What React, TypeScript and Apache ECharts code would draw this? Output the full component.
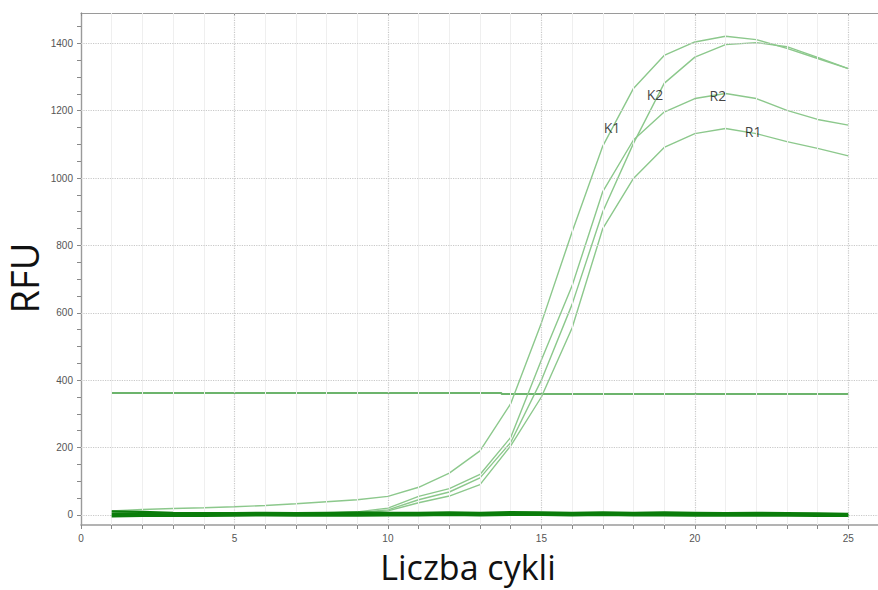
import React, { useEffect, useRef } from "react";
import * as echarts from "echarts";

const CYCLES = [1, 2, 3, 4, 5, 6, 7, 8, 9, 10, 11, 12, 13, 14, 15, 16, 17, 18, 19, 20, 21, 22, 23, 24, 25];

const K1 = [12, 16, 19, 21, 24, 28, 33, 39, 45, 55, 82, 124, 190, 330, 570, 840, 1095, 1266, 1364, 1404, 1421, 1411, 1385, 1355, 1325];
const K2 = [3, 3, 2, 3, 3, 4, 4, 5, 7, 15, 45, 68, 110, 215, 400, 625, 900, 1103, 1281, 1359, 1396, 1402, 1390, 1358, 1325];
const R2 = [4, 4, 3, 3, 4, 4, 5, 6, 9, 20, 55, 78, 120, 230, 460, 680, 960, 1113, 1196, 1236, 1251, 1236, 1201, 1174, 1157];
const R1 = [2, 2, 2, 2, 2, 3, 3, 4, 6, 12, 36, 56, 90, 205, 350, 555, 850, 999, 1091, 1132, 1147, 1132, 1108, 1088, 1066];

const BASE1 = [10, 9, 6, 5, 5, 6, 5, 6, 7, 6, 6, 7, 6, 8, 7, 6, 7, 6, 7, 6, 5, 6, 5, 4, 3];
const BASE2 = [2, 3, 1, 0, 1, 2, 1, 2, 1, 2, 3, 2, 3, 4, 3, 2, 3, 3, 2, 2, 1, 2, 1, 0, -1];
const BASE3 = [-4, -3, -2, -3, -2, -1, -2, -1, -2, -1, -1, 0, -1, 0, 0, -1, 0, -1, -1, -2, -1, -2, -2, -3, -3];

const THRESHOLD_X = [1, 13.7, 13.7, 25];
const THRESHOLD_Y = [362, 362, 359, 359];

const X_LABELS = [0, 5, 10, 15, 20, 25];
const Y_LABELS = [0, 200, 400, 600, 800, 1000, 1200, 1400];
const Y_TICKS = [0, 50, 100, 150, 200, 250, 300, 350, 400, 450, 500, 550, 600, 650, 700, 750, 800, 850, 900, 950, 1000, 1050, 1100, 1150, 1200, 1250, 1300, 1350, 1400, 1450];
const X_MINOR_GRID = [1, 2, 3, 4, 6, 7, 8, 9, 11, 12, 13, 14, 16, 17, 18, 19, 21, 22, 23, 24];

const CURVE_NAMES = ["K1", "K2", "R1", "R2"];
const CURVE_LABEL_X = [17.3, 18.7, 21.9, 20.75];
const CURVE_LABEL_Y = [1151, 1249, 1139, 1246];

export default function App() {
  const ref = useRef<HTMLDivElement>(null);

  useEffect(() => {
    const chart = echarts.init(ref.current!, null, { renderer: "svg" });
    const pair = (arr: number[]) => CYCLES.map((c, i) => [c, arr[i]]);
    const curveColor = "#8cc88c";
    const baseColor = "#0b7d0b";

    const curve = (name: string, arr: number[]) => ({
      name,
      type: "line",
      data: pair(arr),
      showSymbol: false,
      symbol: "none",
      lineStyle: { color: curveColor, width: 1.4 },
      z: 3,
      silent: true,
    });
    const base = (name: string, arr: number[]) => ({
      name,
      type: "line",
      data: pair(arr),
      showSymbol: false,
      symbol: "none",
      lineStyle: { color: baseColor, width: 2.4 },
      z: 5,
      silent: true,
    });

    const gridStyle = { color: "#c9c9c9", type: "dotted", width: 1.2 };
    const minorStyle = { color: "#efefef", type: "solid", width: 1 };

    const option: any = {
      animation: false,
      backgroundColor: "#ffffff",
      grid: { left: 81, top: 13, right: -1, bottom: 65, containLabel: false, outerBoundsMode: "none" },
      xAxis: [
        {
          type: "value",
          min: 0,
          max: 26,
          interval: 1,
          name: "Liczba cykli",
          nameLocation: "middle",
          nameGap: 25,
          nameTextStyle: {
            color: "#111",
            fontSize: 34,
            lineHeight: 34,
            fontFamily: "Open Sans",
            padding: [0, 24, 0, 0],
          },
          axisLine: { show: true, onZero: false, lineStyle: { color: "#9a9a9a", width: 1.6 } },
          axisTick: { show: true, length: 4, lineStyle: { color: "#888" } },
          axisLabel: {
            customValues: X_LABELS,
            color: "#555",
            fontSize: 10,
            fontFamily: "Liberation Sans",
            margin: 8,
          },
          splitLine: { show: false },
        },
        {
          type: "value",
          position: "top",
          min: 0,
          max: 26,
          interval: 1,
          axisLine: { show: true, onZero: false, lineStyle: { color: "#9a9a9a", width: 1.2 } },
          axisTick: { show: true, inside: true, length: 3, lineStyle: { color: "#888" } },
          axisLabel: { show: false },
          splitLine: { show: false },
        },
      ],
      yAxis: {
        type: "value",
        min: -30,
        max: 1490,
        name: "RFU",
        nameLocation: "middle",
        nameRotate: 90,
        nameGap: 38,
        nameMoveOverlap: false,
        nameTextStyle: {
          color: "#111",
          fontSize: 38,
          lineHeight: 38,
          fontFamily: "Open Sans",
          padding: [0, 18, 0, 0],
        },
        axisLine: { show: true, onZero: false, lineStyle: { color: "#9a9a9a", width: 1.4 } },
        axisTick: { show: true, length: 4, customValues: Y_TICKS, lineStyle: { color: "#888" } },
        axisLabel: {
          customValues: Y_LABELS,
          formatter: (v: number) => String(v),
          color: "#555",
          fontSize: 10,
          fontFamily: "Liberation Sans",
          margin: 8,
        },
        splitLine: { show: false },
      },
      series: [
        {
          name: "grid",
          type: "line",
          data: [[0, 0]],
          showSymbol: false,
          symbol: "none",
          lineStyle: { opacity: 0 },
          z: 1,
          silent: true,
          markLine: {
            silent: true,
            symbol: "none",
            label: { show: false },
            animation: false,
            data: [
              ...X_MINOR_GRID.map((v) => ({ xAxis: v, lineStyle: minorStyle })),
              ...X_LABELS.filter((v) => v > 0).map((v) => ({ xAxis: v, lineStyle: gridStyle })),
              ...Y_LABELS.map((v) => ({ yAxis: v, lineStyle: gridStyle })),
            ],
          },
        },
        {
          name: "Threshold",
          type: "line",
          data: THRESHOLD_X.map((x, i) => [x, THRESHOLD_Y[i]]),
          showSymbol: false,
          symbol: "none",
          lineStyle: { color: "#6cb46c", width: 2 },
          z: 2,
          silent: true,
        },
        curve("K1", K1),
        curve("K2", K2),
        curve("R2", R2),
        curve("R1", R1),
        base("NTC1", BASE1),
        base("NTC2", BASE2),
        base("NTC3", BASE3),
        {
          name: "labels",
          type: "scatter",
          symbolSize: 1,
          itemStyle: { color: "rgba(0,0,0,0)" },
          z: 6,
          silent: true,
          data: CURVE_NAMES.map((n, i) => ({ name: n, value: [CURVE_LABEL_X[i], CURVE_LABEL_Y[i]] })),
          label: {
            show: true,
            position: "inside",
            formatter: (p: any) => p.name,
            color: "#111",
            fontSize: 14,
            fontFamily: "Open Sans",
          },
        },
      ],
    };

    chart.setOption(option);
    return () => chart.dispose();
  }, []);

  return (
    <div
      ref={ref}
      style={{ position: "absolute", left: 0, top: 0, width: 878, height: 590, background: "#fff" }}
    />
  );
}
